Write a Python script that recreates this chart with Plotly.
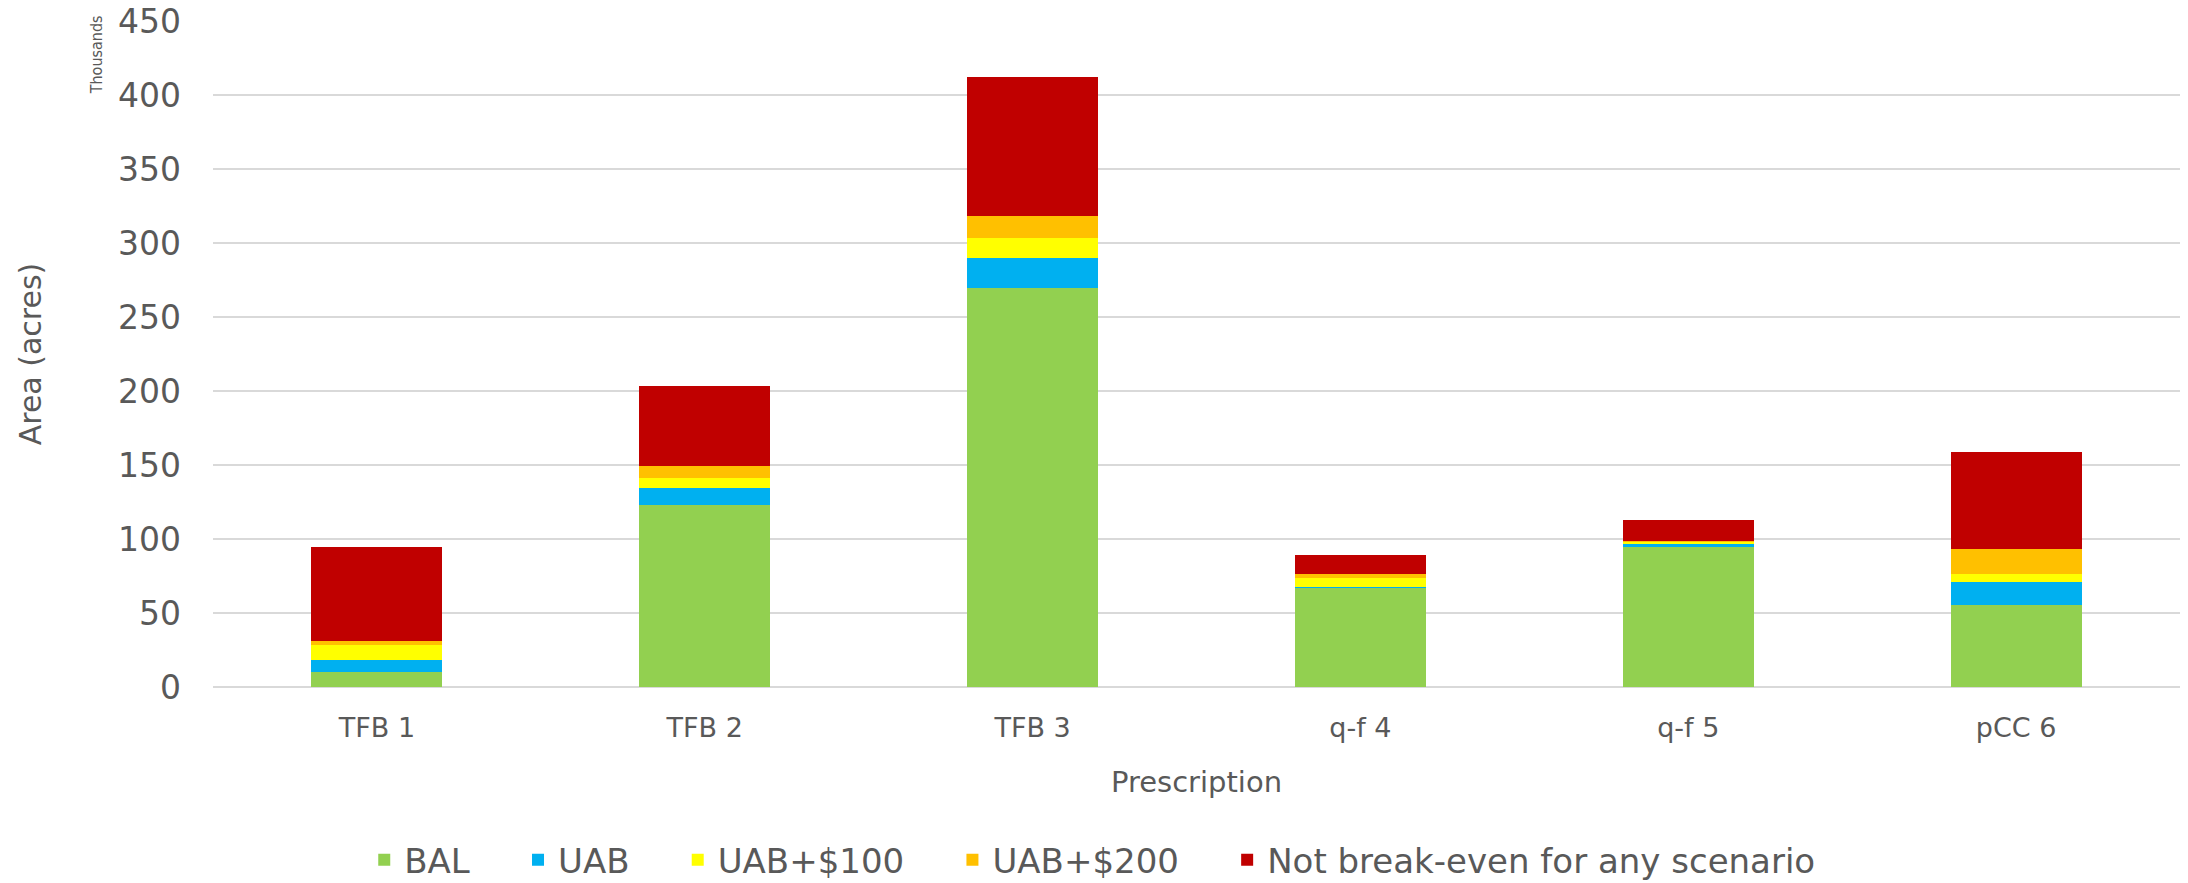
import plotly.graph_objects as go

categories = ["TFB 1", "TFB 2", "TFB 3", "q-f 4", "q-f 5", "pCC 6"]
# values in thousands of acres
bal = [10.3, 123.0, 269.6, 66.9, 94.8, 55.1]
uab = [8.1, 11.7, 20.5, 0.5, 1.6, 15.6]
uab100 = [10.0, 6.5, 13.3, 6.5, 1.8, 5.9]
uab200 = [2.7, 8.3, 14.6, 2.5, 0.3, 16.9]
not_be = [63.2, 53.7, 94.1, 13.0, 14.3, 65.3]

series_names = ["BAL", "UAB", "UAB+$100", "UAB+$200", "Not break-even for any scenario"]
series_values = [bal, uab, uab100, uab200, not_be]
series_colors = ["#92D050", "#00B0F0", "#FFFF00", "#FFC000", "#C00000"]

FONT = "DejaVu Sans"
GREY = "#595959"
PAD = "\u00a0" * 4  # visual spacing between legend entries

fig = go.Figure()
for i, (name, vals, color) in enumerate(zip(series_names, series_values, series_colors)):
    label = name + (PAD if i < len(series_names) - 1 else "")
    fig.add_trace(go.Bar(x=categories, y=vals, name=label,
                         marker=dict(color=color, line=dict(width=0))))

fig.update_layout(
    width=2188, height=883,
    barmode="stack", bargap=0.6,
    plot_bgcolor="white", paper_bgcolor="white",
    margin=dict(l=213, r=8, t=21, b=196, autoexpand=False),
    font=dict(family=FONT, color=GREY, size=28),
    showlegend=True,
    legend=dict(orientation="h", x=0.447, xanchor="center", y=-0.26, yanchor="middle",
                font=dict(size=34, color=GREY, family=FONT), traceorder="normal",
                itemwidth=30),
    xaxis=dict(title=dict(text="Prescription", font=dict(size=29, color=GREY), standoff=29),
               tickfont=dict(size=27, color=GREY), showgrid=False, ticks="",
               showline=False, ticklabelstandoff=22, automargin=False),
    yaxis=dict(title=dict(text="Area (acres)", font=dict(size=30, color=GREY), standoff=67),
               range=[0, 450], dtick=50, tickfont=dict(size=33, color=GREY),
               showgrid=True, gridcolor="#D9D9D9", gridwidth=2,
               zeroline=True, zerolinecolor="#D9D9D9", zerolinewidth=2,
               ticks="", showline=False, ticklabelstandoff=31, automargin=False,
               ticklabeloverflow="allow"),
    annotations=[dict(text="Thousands", xref="paper", yref="paper", x=-0.0594, y=1.011,
                      xanchor="center", yanchor="top", textangle=-90, showarrow=False,
                      font=dict(size=16, color=GREY,
                                family="DejaVu Sans Condensed, Liberation Sans, sans-serif"))],
)

# remove the page's default body margin so the figure fills the window exactly
fig.write_html("out.html", config={"displayModeBar": False},
               post_script="document.body.style.margin='0';")
